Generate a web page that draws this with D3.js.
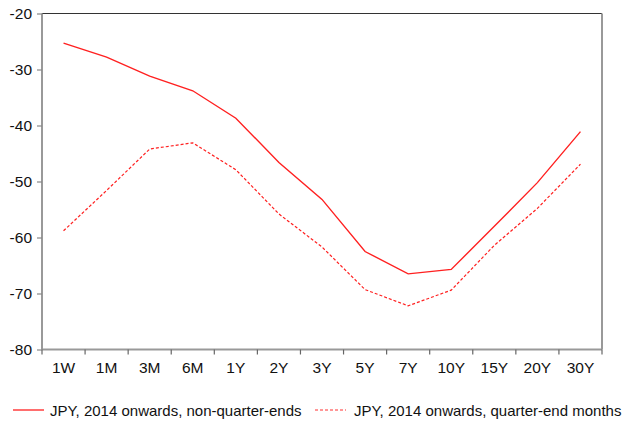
<!DOCTYPE html>
<html><head><meta charset="utf-8">
<script src="https://cdn.jsdelivr.net/npm/d3@7"></script>
<style>body{margin:0;background:#fff}svg{display:block}text{font-family:"Liberation Sans",Arial,sans-serif}</style>
</head><body>
<svg id="c" width="630" height="423"></svg>
<script>
const categories = ["1W","1M","3M","6M","1Y","2Y","3Y","5Y","7Y","10Y","15Y","20Y","30Y"];
const nonQuarterEnds = [-25.3,-27.8,-31.2,-33.8,-38.7,-46.6,-53.2,-62.5,-66.5,-65.7,-58.0,-50.2,-41.1];
const quarterEndMonths = [-58.8,-51.6,-44.2,-43.1,-47.9,-55.8,-61.7,-69.3,-72.2,-69.4,-61.4,-54.8,-46.9];
const yTicks = [-20,-30,-40,-50,-60,-70,-80];
const seriesNames = ["JPY, 2014 onwards, non-quarter-ends","JPY, 2014 onwards, quarter-end months"];

const svg = d3.select("#c");
const L = 42, R = 602, T = 13.5, B = 349.5;
const FS = 15.5, LFS = 15;
const x = d3.scaleBand().domain(categories).range([L, R]);
const y = d3.scaleLinear().domain([-80, -20]).range([B, T]);

// frame
svg.append("line").attr("x1", L).attr("x2", R).attr("y1", T).attr("y2", T).attr("stroke", "#333").attr("stroke-width", 1.2);
svg.append("line").attr("x1", R).attr("x2", R).attr("y1", T).attr("y2", B).attr("stroke", "#999").attr("stroke-width", 2);

// y axis
const ya = svg.append("g").attr("transform", `translate(${L},0)`)
  .call(d3.axisLeft(y).tickValues(yTicks).tickSize(5).tickPadding(5).tickFormat(d => String(d)));
ya.select(".domain").attr("stroke", "#999").attr("stroke-width", 2).attr("d", `M0,${T}V${B}`);
ya.selectAll(".tick line").attr("stroke", "#888").attr("stroke-width", 1.2);
ya.selectAll("text").attr("font-size", FS).attr("fill", "#111").attr("font-family", "Liberation Sans, Arial, sans-serif");

// x axis with ticks at category boundaries
const xa = svg.append("g").attr("transform", `translate(0,${B})`)
  .call(d3.axisBottom(x).tickSize(0).tickPadding(12));
xa.select(".domain").attr("stroke", "#999").attr("stroke-width", 2).attr("d", `M${L},0H${R}`);
xa.selectAll("text").attr("font-size", FS).attr("fill", "#111").attr("font-family", "Liberation Sans, Arial, sans-serif");
const bounds = categories.map(c => x(c)).concat([R]);
xa.selectAll(".bt").data(bounds).enter().append("line")
  .attr("x1", d => d).attr("x2", d => d).attr("y1", 0).attr("y2", 5)
  .attr("stroke", "#666").attr("stroke-width", 1.2);

const line = d3.line().x((d, i) => x(categories[i]) + x.bandwidth() / 2).y(d => y(d));
svg.append("path").datum(nonQuarterEnds).attr("d", line).attr("fill", "none")
  .attr("stroke", "#ff2020").attr("stroke-width", 1.4);
svg.append("path").datum(quarterEndMonths).attr("d", line).attr("fill", "none")
  .attr("stroke", "#ff2020").attr("stroke-width", 1.2).attr("stroke-dasharray", "3,2");

// legend
const lg = svg.append("g");
const ly = 410;
lg.append("line").attr("x1", 13).attr("x2", 44).attr("y1", ly).attr("y2", ly).attr("stroke", "#ff3030").attr("stroke-width", 1.4);
lg.append("text").attr("x", 50).attr("y", ly + 5.5).attr("font-size", LFS).attr("fill", "#111").text(seriesNames[0]);
lg.append("line").attr("x1", 315).attr("x2", 346).attr("y1", ly).attr("y2", ly).attr("stroke", "#ff3030").attr("stroke-width", 1.2).attr("stroke-dasharray", "3,2");
lg.append("text").attr("x", 354).attr("y", ly + 5.5).attr("font-size", LFS).attr("fill", "#111").text(seriesNames[1]);
</script>
</body></html>
